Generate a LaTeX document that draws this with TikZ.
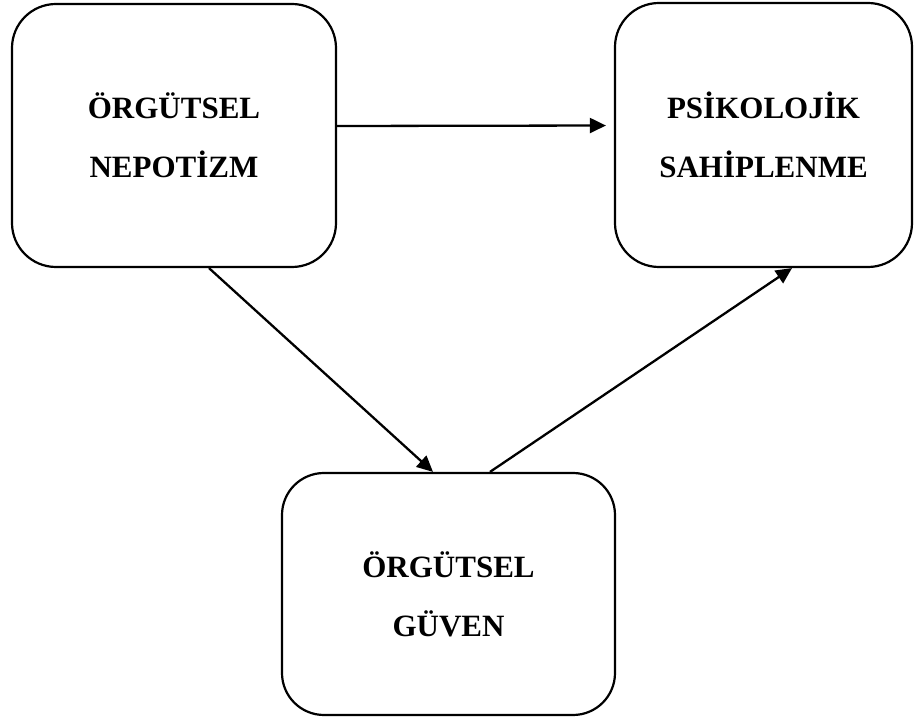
\documentclass[tikz,border=0pt]{standalone}
\usepackage{fontspec}
\setmainfont{Liberation Serif}
\usetikzlibrary{arrows.meta}
\begin{document}
\begin{tikzpicture}[x=0.5pt,y=0.5pt,
  kutu/.style={draw,line width=1.1pt,rounded corners=22pt,align=center,
    font=\fontsize{15.5}{29.5}\selectfont\bfseries},
  ok/.style={line width=1.15pt,-{Triangle[length=8pt,width=7.5pt]}}]
\useasboundingbox (0,0) rectangle (918,719);
\node[kutu,minimum width=162pt,minimum height=131.5pt] (nepotizm) at (174,583.5) {ÖRGÜTSEL\\NEPOTİZM};
\node[kutu,minimum width=148.5pt,minimum height=132pt] (sahip) at (763.5,584) {PSİKOLOJİK\\SAHİPLENME};
\node[kutu,minimum width=166.5pt,minimum height=121pt,rounded corners=21pt] (guven) at (448.5,125) {ÖRGÜTSEL\\GÜVEN};

\draw[ok,shorten >=4pt] ([yshift=4.75pt]nepotizm.east) -- ([yshift=4.75pt]sahip.west);
\draw[ok] ([xshift=17.5pt]nepotizm.south) -- ([xshift=-7.75pt]guven.north);
\draw[ok] ([xshift=20.75pt]guven.north) -- ([xshift=14.25pt]sahip.south);
\end{tikzpicture}
\end{document}
